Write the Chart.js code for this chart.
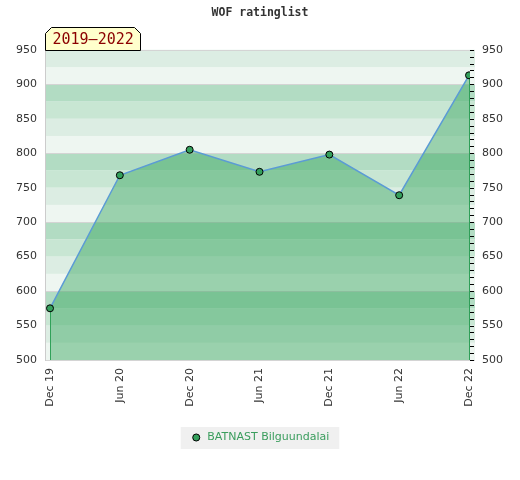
<!DOCTYPE html>
<html>
<head>
<meta charset="utf-8">
<script src="https://cdn.jsdelivr.net/npm/chart.js@4"></script>
<style>
    html, body { margin: 0; padding: 0; background: #ffffff; }
    #wrap { width: 520px; height: 480px; }
</style>
</head>
<body>
<div id="wrap"><canvas id="rating-chart" width="520" height="480"></canvas></div>
<script>
const periodLabels = ['Dec 19', 'Jun 20', 'Dec 20', 'Jun 21', 'Dec 21', 'Jun 22', 'Dec 22'];
const ratings = [575, 768, 805, 773, 798, 739, 913];
const playerName = 'BATNAST Bilguundalai';
const rangeLabel = '2019\u20132022';
const yMin = 500;
const yMax = 950;

const bandColors = ['#eef6f1', '#dcede3', '#c8e6d3', '#b2dcc3'];

// striped background, frame lines and the green edges of the filled area
const backgroundPlugin = {
    id: 'ratingBackground',
    beforeDraw(chart) {
        const {ctx, legend} = chart;
        const hb = legend && legend.legendHitBoxes && legend.legendHitBoxes[0];
        if (hb) {
            ctx.save();
            ctx.fillStyle = '#f0f0f0';
            ctx.fillRect(hb.left - 10, hb.top - 5, hb.width + 20, 22);
            ctx.restore();
        }
    },
    beforeDatasetsDraw(chart) {
        const {ctx, chartArea} = chart;
        const y = chart.scales.y;
        const left = chartArea.left;
        const right = chartArea.right + 5;
        ctx.save();
        for (let v = yMin, i = 0; v < yMax; v += 25, i++) {
            const top = y.getPixelForValue(v + 25);
            const bottom = y.getPixelForValue(v);
            ctx.fillStyle = bandColors[i % 4];
            ctx.fillRect(left, top, right - left, bottom - top);
        }
        ctx.strokeStyle = '#d4d4d4';
        ctx.lineWidth = 1;
        const lines = [yMax, 900, 800, 700, 600, yMin];
        lines.forEach(v => {
            const py = Math.round(y.getPixelForValue(v)) + 0.5;
            ctx.beginPath();
            ctx.moveTo(left, py);
            ctx.lineTo(right, py);
            ctx.stroke();
        });
        ctx.strokeStyle = '#cccccc';
        ctx.beginPath();
        ctx.moveTo(left + 0.5, chartArea.top);
        ctx.lineTo(left + 0.5, chartArea.bottom + 1);
        ctx.stroke();

        // small ticks of the right axis, inside the frame
        const y2 = chart.scales.y2;
        ctx.strokeStyle = '#000000';
        y2.ticks.forEach(t => {
            const py = Math.round(y2.getPixelForValue(t.value)) + 0.5;
            ctx.beginPath();
            ctx.moveTo(chartArea.right, py);
            ctx.lineTo(chartArea.right + 4, py);
            ctx.stroke();
        });

        const pts = chart.getDatasetMeta(0).data;
        ctx.strokeStyle = '#2f9f58';
        [pts[0], pts[pts.length - 1]].forEach(p => {
            const px = Math.round(p.x) + 0.5;
            ctx.beginPath();
            ctx.moveTo(px, p.y);
            ctx.lineTo(px, y.getPixelForValue(yMin));
            ctx.stroke();
        });
        ctx.restore();
    },
    afterDraw(chart) {
        const {ctx, chartArea} = chart;
        const x0 = chartArea.left + 0.5, x1 = x0 + 95, y0 = 27.5, y1 = 50.5, c = 6;
        ctx.save();
        ctx.beginPath();
        ctx.moveTo(x0, y1);
        ctx.lineTo(x0, y0 + c);
        ctx.lineTo(x0 + c, y0);
        ctx.lineTo(x1 - c, y0);
        ctx.lineTo(x1, y0 + c);
        ctx.lineTo(x1, y1);
        ctx.closePath();
        ctx.fillStyle = '#ffffcc';
        ctx.fill();
        ctx.strokeStyle = '#000000';
        ctx.lineWidth = 1;
        ctx.stroke();
        ctx.fillStyle = '#8b0000';
        ctx.font = '15px "DejaVu Sans Mono"';
        ctx.textBaseline = 'middle';
        ctx.textAlign = 'left';
        ctx.fillText(rangeLabel, x0 + 7, 40);
        ctx.restore();
    }
};

const tickFont = { family: 'DejaVu Sans', size: 11 };

new Chart(document.getElementById('rating-chart').getContext('2d'), {
    type: 'line',
    data: {
        datasets: [{
            label: playerName,
            data: ratings.map((r, i) => ({ x: i, y: r })),
            borderColor: '#5b9bd5',
            borderWidth: 1.5,
            backgroundColor: 'rgba(51,164,92,0.45)',
            fill: 'start',
            tension: 0,
            pointRadius: 3.5,
            pointHoverRadius: 3.5,
            pointBackgroundColor: '#34a05c',
            pointBorderColor: '#000000',
            pointBorderWidth: 1
        }]
    },
    options: {
        responsive: false,
        animation: false,
        layout: { padding: { bottom: 27 } },
        plugins: {
            title: {
                display: true,
                text: 'WOF ratinglist',
                color: '#333333',
                font: { family: 'DejaVu Sans Mono', size: 11.5, weight: 'bold' },
                padding: { top: 6, bottom: 30 }
            },
            legend: {
                position: 'bottom',
                labels: {
                    usePointStyle: true,
                    pointStyle: 'circle',
                    boxWidth: 11,
                    boxHeight: 5,
                    color: '#3a9d5d',
                    font: { family: 'DejaVu Sans', size: 11 },
                    padding: 10,
                    generateLabels: chart => [{
                        text: playerName,
                        fillStyle: '#34a05c',
                        strokeStyle: '#000000',
                        lineWidth: 1,
                        pointStyle: 'circle',
                        fontColor: '#3a9d5d',
                        datasetIndex: 0
                    }]
                }
            },
            tooltip: { enabled: false }
        },
        scales: {
            x: {
                type: 'linear',
                min: -0.0716,
                max: 6.0143,
                afterBuildTicks: scale => { scale.ticks = periodLabels.map((_, i) => ({ value: i })); },
                afterFit: scale => { scale.height = 62; },
                grid: { display: false, drawTicks: false },
                border: { display: false },
                ticks: {
                    callback: v => periodLabels[v],
                    minRotation: 90,
                    maxRotation: 90,
                    autoSkip: false,
                    padding: 8,
                    color: '#333333',
                    font: tickFont
                }
            },
            y: {
                position: 'left',
                min: yMin,
                max: yMax,
                afterFit: scale => { scale.width = 45; },
                grid: { display: false, drawTicks: false },
                border: { display: false },
                ticks: { stepSize: 50, padding: 8, color: '#333333', font: tickFont }
            },
            y2: {
                position: 'right',
                min: yMin,
                max: yMax,
                afterBuildTicks: scale => {
                    const t = [];
                    for (let v = yMin; v <= yMax; v += 10) t.push({ value: v });
                    scale.ticks = t;
                },
                afterFit: scale => { scale.width = 50; },
                grid: { display: false, drawTicks: false },
                border: { display: false },
                ticks: {
                    autoSkip: false,
                    padding: 12,
                    color: '#333333',
                    font: tickFont,
                    callback: v => (v % 50 === 0 ? String(v) : '')
                }
            }
        }
    },
    plugins: [backgroundPlugin]
});
</script>
</body>
</html>
